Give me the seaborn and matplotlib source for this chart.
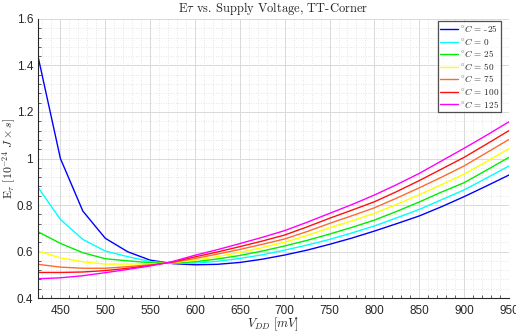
import numpy as np
import pandas as pd
import matplotlib
matplotlib.use("Agg")
import matplotlib.pyplot as plt
from matplotlib.ticker import MultipleLocator, FuncFormatter
import seaborn as sns

vdd = [425, 450, 475, 500, 525, 550, 575, 600, 625, 650, 675, 700,
       725, 750, 775, 800, 825, 850, 875, 900, 925, 950]
temps = ["-25", "0", "25", "50", "75", "100", "125"]
e_m25 = [1.44, 1.00, 0.774, 0.657, 0.599, 0.563, 0.548, 0.543, 0.545, 0.553, 0.567, 0.585,
         0.606, 0.631, 0.658, 0.688, 0.720, 0.753, 0.793, 0.836, 0.882, 0.929]
e_0 = [0.876, 0.738, 0.652, 0.602, 0.578, 0.557, 0.550, 0.550, 0.558, 0.570, 0.586, 0.606,
       0.628, 0.652, 0.680, 0.710, 0.745, 0.781, 0.823, 0.865, 0.916, 0.968]
e_25 = [0.685, 0.635, 0.595, 0.569, 0.560, 0.552, 0.551, 0.556, 0.568, 0.583, 0.602, 0.624,
        0.648, 0.675, 0.704, 0.735, 0.773, 0.813, 0.856, 0.896, 0.950, 1.005]
e_50 = [0.602, 0.573, 0.556, 0.546, 0.546, 0.547, 0.552, 0.563, 0.578, 0.596, 0.617, 0.640,
        0.669, 0.702, 0.732, 0.764, 0.803, 0.844, 0.888, 0.933, 0.987, 1.042]
e_75 = [0.545, 0.533, 0.528, 0.528, 0.535, 0.543, 0.553, 0.570, 0.589, 0.609, 0.631, 0.654,
        0.686, 0.721, 0.754, 0.788, 0.830, 0.874, 0.920, 0.968, 1.025, 1.082]
e_100 = [0.510, 0.510, 0.512, 0.518, 0.528, 0.540, 0.555, 0.577, 0.598, 0.621, 0.645, 0.671,
         0.706, 0.743, 0.778, 0.814, 0.858, 0.905, 0.955, 1.005, 1.062, 1.120]
e_125 = [0.483, 0.487, 0.496, 0.509, 0.523, 0.538, 0.557, 0.584, 0.608, 0.634, 0.661, 0.690,
         0.726, 0.764, 0.802, 0.843, 0.888, 0.936, 0.990, 1.044, 1.100, 1.158]
series = [e_m25, e_0, e_25, e_50, e_75, e_100, e_125]
colors = ["#0000ff", "#00ffff", "#00ee00", "#ffff00", "#ff6a30", "#ff1010", "#ff00ff"]

labels = [r"$^{\circ}C$ = " + t for t in temps]
rows = []
for lab, vals in zip(labels, series):
    for v, e in zip(vdd, vals):
        rows.append({"vdd": v, "E": e, "T": lab})
df = pd.DataFrame(rows)

sns.set_style("white")
plt.rcParams["mathtext.fontset"] = "cm"
plt.rcParams["font.family"] = ["Liberation Sans", "DejaVu Sans"]

fig = plt.figure(figsize=(5.16, 3.33), dpi=100)
ax = fig.add_axes([0.0736, 0.105, 0.9128, 0.838])
sns.lineplot(data=df, x="vdd", y="E", hue="T", palette=colors, hue_order=labels,
             linewidth=1.0, ax=ax, legend=True)

ax.set_xlim(425, 950)
ax.set_ylim(0.4, 1.6)
ax.xaxis.set_major_locator(MultipleLocator(50))
ax.xaxis.set_minor_locator(MultipleLocator(10))
ax.yaxis.set_major_locator(MultipleLocator(0.2))
ax.yaxis.set_minor_locator(MultipleLocator(0.04))
ax.yaxis.set_major_formatter(FuncFormatter(lambda v, p: f"{v:g}"))
ax.grid(which="major", color="#d9d9d9", linewidth=0.7, linestyle="-")
ax.grid(which="minor", color="#dcdcdc", linewidth=0.6, linestyle=(0, (1, 2)))
ax.set_axisbelow(True)
for s in ["top", "right"]:
    ax.spines[s].set_visible(False)
for s in ["left", "bottom"]:
    ax.spines[s].set_color("#262626")
    ax.spines[s].set_linewidth(0.8)
ax.tick_params(which="both", direction="in", colors="#262626", labelsize=8.5)
ax.tick_params(which="major", length=3.5, width=0.6)
ax.tick_params(which="minor", length=2, width=0.5, left=True, bottom=True)
ax.tick_params(axis="x", pad=5)

ax.set_title(r"E$\tau$ vs. Supply Voltage, TT-Corner", family="cmr10", fontsize=9, pad=5)
ax.set_xlabel(r"$V_{DD}$ $[mV]$", fontsize=9)
ax.set_ylabel(r"E$_{\tau}$ $[10^{-24}$ $J\times s]$", family="cmr10", fontsize=8.5)
ax.xaxis.set_label_coords(0.5, -0.063)
ax.xaxis.label.set_va("top")
ax.yaxis.set_label_coords(-0.042, 0.5)

leg = ax.legend(loc="upper right", bbox_to_anchor=(0.984, 0.993), frameon=True, fancybox=False,
                borderaxespad=0.0, handlelength=2.0, handletextpad=0.15,
                labelspacing=0.17, borderpad=0.25, prop={"family": "cmr10", "size": 6.6})
leg.get_frame().set_edgecolor("#262626")
leg.get_frame().set_linewidth(0.9)
leg.set_title(None)

fig.savefig("out.png", dpi=100)
